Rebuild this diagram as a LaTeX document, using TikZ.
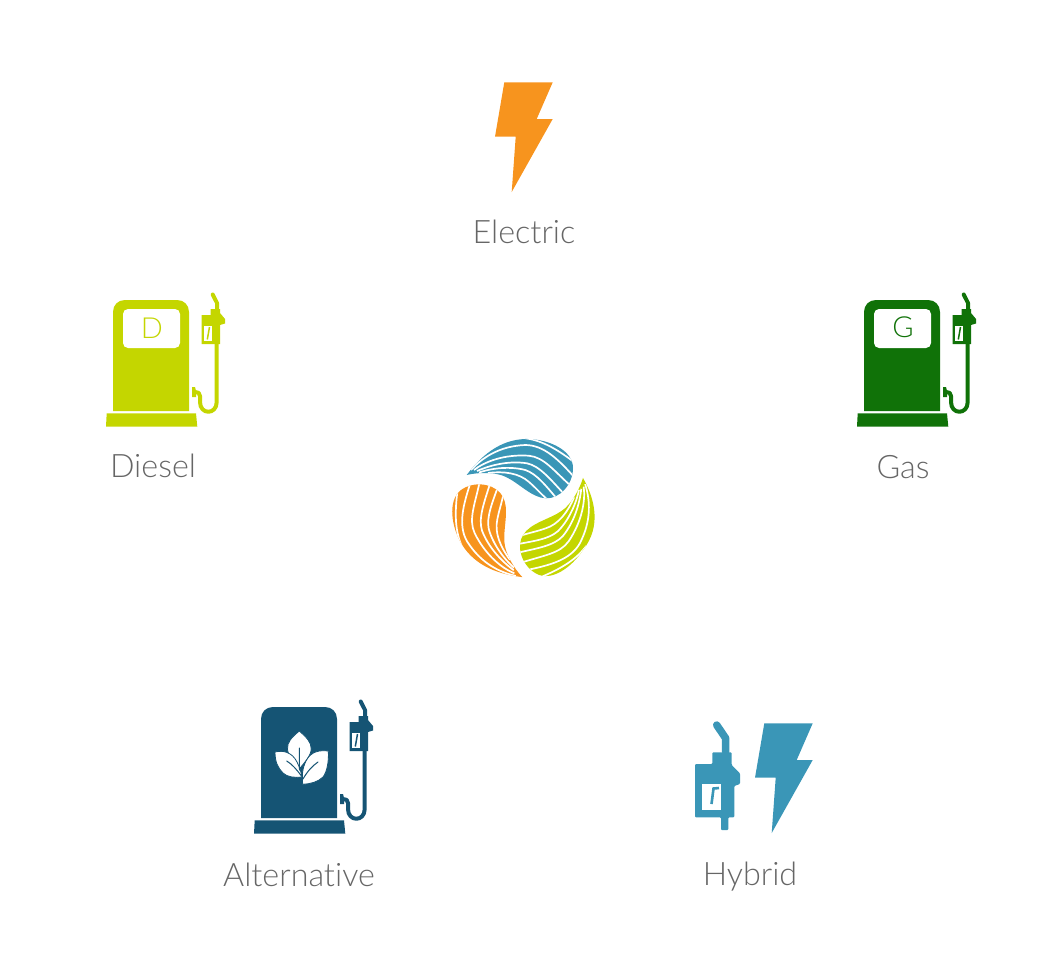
\documentclass[tikz,border=0pt]{standalone}
\usepackage{fontspec}
\setmainfont[Ligatures={NoCommon}]{Lato Light}
\usepackage{tikz}
\definecolor{cOrange}{HTML}{F7941E}
\definecolor{cLime}{HTML}{C4D600}
\definecolor{cGreen}{HTML}{107208}
\definecolor{cNavy}{HTML}{155474}
\definecolor{cTeal}{HTML}{3A96B7}
\definecolor{cText}{HTML}{666666}
\begin{document}
\begin{tikzpicture}
	[
	 x = 1pt,
	 y = -1pt,
	 label/.style = {anchor = base,
	                  text = cText,
	                  inner sep = 0pt,
	                  font = \fontsize{32.3}{38}\selectfont
	                 },
	 letter/.style = {inner sep = 0pt,
	                  font = \fontsize{29}{34}\selectfont
	                 },
	 hose/.style = {draw = #1,
	                line width = 4pt,
	                line cap = round,
	                line join = round
	               },
	 window/.style = {fill = white,
	                  rounded corners = 5pt
	                 },
	 streak/.style = {draw = white,
	                  line width = 1.7pt
	                 },
	 leaf/.style = {fill = white,
	                draw = cNavy,
	                line width = .8pt
	               },
	 vein/.style = {draw = cNavy,
	                line width = 1pt,
	                line cap = round
	               }
	]

	\newcommand{\Pump}[2]{
		\begin{scope}[shift = {#1}]
		  % body, foot
		  \fill [#2] (113,411) -- (113,312) .. controls (113,305) and (118,300) .. (125,300)
		             -- (177,300) .. controls (184,300) and (189,305) .. (189,312)
		             -- (189,411) -- cycle;
		  \fill [#2] (106.7,413.3) -- (196,413.3) -- (197.3,426.7) -- (106,426.7) -- cycle;
		  % nozzle
		  \fill [#2] (201.7,315) -- (210.7,315) -- (210.7,309) -- (220,309) -- (220,313)
		             -- (225,319) -- (225,323.5) -- (220,325) -- (220,344) -- (201.7,344) -- cycle;
		  \fill [white] (204.3,326) rectangle (211.7,341);
		  \draw [#2, line width = 1.5pt] (209.5,327) -- (207.3,339.5);
		  % hose
		  \draw [hose = #2] (212.7,294.5) -- (217,303) -- (217,309);
		  \draw [hose = #2] (216.7,343) -- (216.7,402)
		        .. controls (216.7,415) and (200,415) .. (200,402)
		        -- (200,396) .. controls (200,393) and (198,392) .. (195,392);
		  \fill [#2] (192,387) -- (195,387) -- (196,391) -- (196,397) -- (192,397) -- cycle;
		\end{scope}
	}

	\newcommand{\Bolt}[2]{
		\fill [#2, shift = {#1}] (504.3,82.3) -- (552.7,82.3) -- (536.7,119) -- (552.7,119)
		      -- (511.7,192) -- (515.7,136.7) -- (495,136.7) -- cycle;
	}

	\newcommand{\Drop}[3]{
		\begin{scope}[shift = {(524,510)}, rotate = #1]
		  \begin{scope}
		    \clip (-57.3,-35) .. controls #3 .. (6,-71)
		          .. controls (25,-70) and (49,-60) .. (49,-42)
		          .. controls (49,-25) and (35,-11) .. (22,-11.7)
		          .. controls (8,-12) and (-5,-27) .. (-18,-33)
		          .. controls (-28,-38) and (-45,-38) .. (-57.3,-35) -- cycle;
		    \fill [#2] (-65,-85) rectangle (55,-5);
		    \draw [streak] (0,-72) .. controls (15,-70) and (30,-64) .. (55,-44);
		    \draw [streak] (-53,-40) .. controls (-42,-52) and (-25,-64) .. (1.3,-65)
		          .. controls (20,-65) and (35,-50) .. (51,-32);
		    \draw [streak] (-50,-40) .. controls (-40,-48) and (-20,-56) .. (4.7,-54.3)
		          .. controls (20,-53) and (30,-39) .. (48,-23);
		    \draw [streak] (-47,-39) .. controls (-38,-43) and (-18,-50) .. (3,-46.7)
		          .. controls (16,-44) and (27,-30) .. (41,-15);
		    \draw [streak] (-45,-37.5) .. controls (-38,-40) and (-18,-45) .. (1.3,-40)
		          .. controls (13,-36) and (22,-24) .. (34,-10);
		    \draw [streak] (-36,-37) .. controls (-20,-39) and (-5,-37) .. (5,-28)
		          .. controls (12,-22) and (17,-16) .. (26,-8);
		  \end{scope}
		\end{scope}
	}

	\useasboundingbox (0,0) rectangle (1056,966);

	\Bolt{(0,0)}{cOrange}
	\node [label] (Electric) at (524,243) {Electric};

	\Pump{(0,0)}{cLime}
	\fill [window] (123,309) rectangle (180,348);
	\node [letter, text = cLime] (D) at (152,328) {D};
	\node [label] (Diesel) at (153,477) {Diesel};

	\Pump{(751,0)}{cGreen}
	\fill [window] (874,309) rectangle (931,348);
	\node [letter, text = cGreen] (G) at (903,327) {G};
	\node [label] (Gas) at (903,478) {Gas};

	\Drop{0}{cTeal}{(-40,-58) and (-20,-72)}
	\Drop{-120}{cLime}{(-46,-54) and (-26,-76)}
	\Drop{-240}{cOrange}{(-40,-58) and (-20,-72)}

	\Pump{(148,407)}{cNavy}
	% leaves
	\fill [leaf] (299.3,731) .. controls (292,737) and (287,742) .. (287.5,749)
	      .. controls (288,757) and (295,763) .. (299.3,769)
	      .. controls (304,763) and (311,756) .. (311.2,749)
	      .. controls (311.5,742) and (306,737) .. (299.3,731) -- cycle;
	\fill [leaf] (275,752) .. controls (283,750) and (292,752) .. (297,762)
	      .. controls (300,768) and (301,772) .. (302,777)
	      .. controls (295,778) and (287,777) .. (283,773)
	      .. controls (278,768) and (275,762) .. (275,752) -- cycle;
	\fill [leaf] (328.3,751) .. controls (320,750) and (311,751) .. (306,761)
	      .. controls (302,769) and (302,776) .. (302.7,784.3)
	      .. controls (310,784) and (318,782) .. (323,777)
	      .. controls (327,772) and (329,761) .. (328.3,751) -- cycle;
	\draw [vein] (299.3,748) -- (299.5,770);
	\draw [vein] (286.7,761) .. controls (292,764) and (297,770) .. (301.5,776);
	\draw [vein] (318,762) .. controls (312,766) and (307,772) .. (303,779);
	\node [label] (Alternative) at (299,886) {Alternative};

	% hybrid nozzle
	\fill [cTeal, rounded corners = 1pt] (712.3,752.3) -- (731.7,752.3) -- (731.7,765) -- (740,773.3) -- (740,784)
	      -- (734.3,786) -- (734.3,817.3) -- (728.3,817.3) -- (728.3,830) -- (721,830)
	      -- (721,817.3) -- (695,817.3) -- (695,764) -- (712.3,764) -- cycle;
	\fill [white] (701.7,784) rectangle (721,810);
	\draw [cTeal, line width = 2.6pt] (719,788) -- (713.5,788.5) -- (711.5,804);
	\draw [hose = cTeal, line width = 7.5pt] (716.7,725) -- (725.7,738.3) -- (725.7,752);
	\Bolt{(260,641)}{cTeal}
	\node [label] (Hybrid) at (750,885) {Hybrid};
\end{tikzpicture}
\end{document}
